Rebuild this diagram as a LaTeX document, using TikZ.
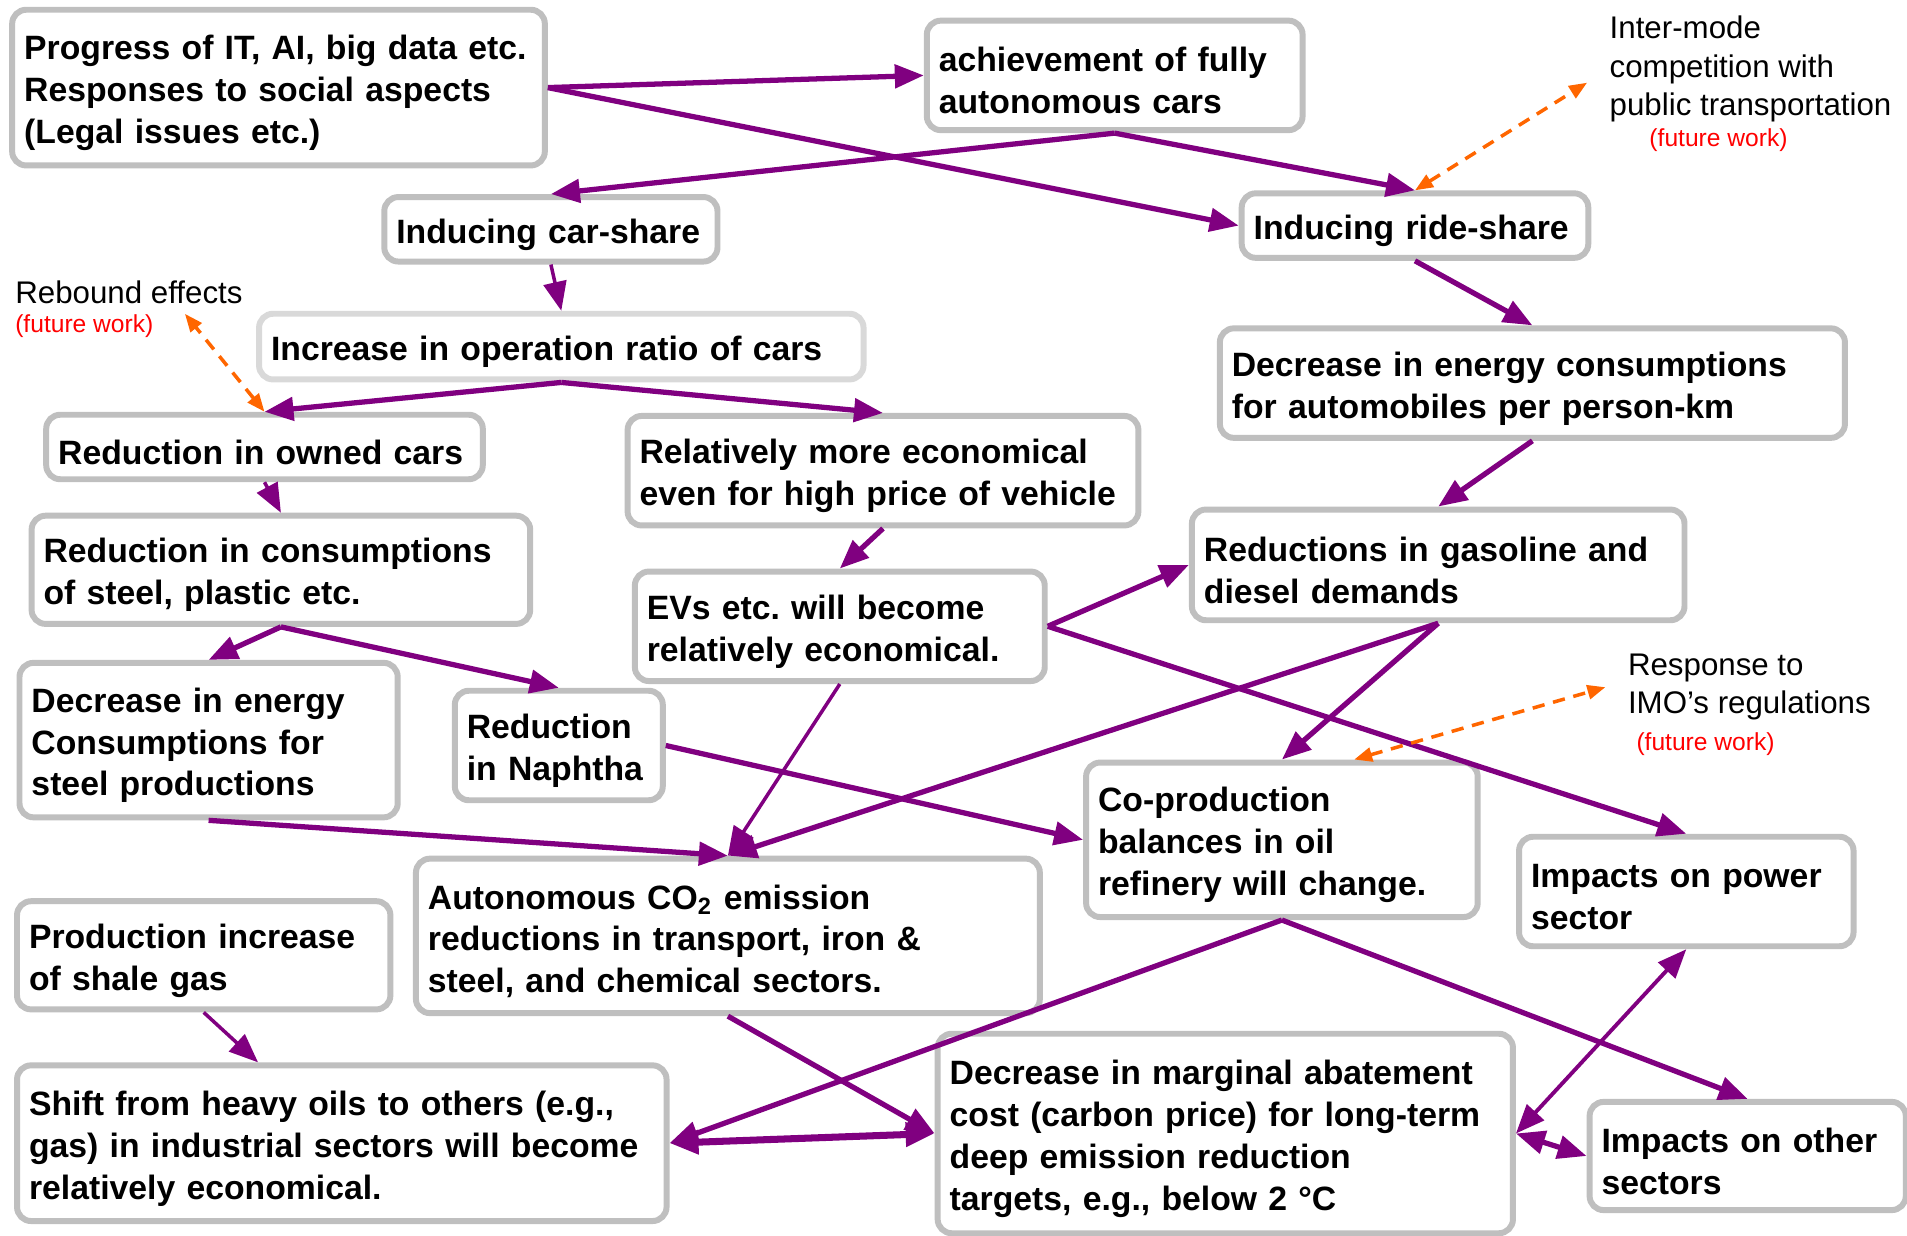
\documentclass[tikz,border=0pt]{standalone}
\usepackage{fontspec}
\setmainfont{Liberation Sans}
\frenchspacing
\usetikzlibrary{arrows.meta}
\definecolor{boxgray}{RGB}{191,191,191}
\definecolor{lightgray}{RGB}{217,217,217}
\definecolor{flowpurple}{RGB}{128,0,128}
\definecolor{fworange}{RGB}{255,102,0}
\tikzset{
  box/.style={draw=boxgray, line width=1.7pt, rounded corners=4pt, fill=white, align=left,
    inner xsep=0.12cm, inner ysep=0.08cm, font=\bfseries\fontsize{9.6}{11.9}\selectfont,
    execute at begin node={\rule{0pt}{10pt}}},
  flow/.style={draw=flowpurple, line width=1.5pt, -{Triangle[length=0.29cm,width=0.23cm]}},
  thinflow/.style={flow, line width=1pt},
  both/.style={flow, {Triangle[length=0.29cm,width=0.23cm]}-{Triangle[length=0.29cm,width=0.23cm]}},
  fw/.style={draw=fworange, line width=1pt, dash pattern=on 3.5pt off 2.5pt,
    {Triangle[length=0.18cm,width=0.14cm]}-{Triangle[length=0.18cm,width=0.14cm]}},
  note/.style={align=left, inner sep=0pt, font=\fontsize{8.9}{10.9}\selectfont},
  later/.style={text=red, inner sep=0pt, font=\fontsize{7}{8.4}\selectfont}
}
\begin{document}
\begin{tikzpicture}
\useasboundingbox (0,0) rectangle (19.07,-12.36);
\node[box, text width=5.087cm, minimum height=1.557cm] (it) at (2.785,-0.876)
{Progress of IT, AI, big data etc.\\Responses to social aspects\\(Legal issues etc.)};
\node[box, text width=3.518cm, minimum height=1.095cm] (auto) at (11.147,-0.754)
{achievement of fully\\autonomous cars};
\node[box, text width=3.092cm, minimum height=0.645cm] (car) at (5.509,-2.293)
{Inducing car-share};
\node[box, text width=3.226cm, minimum height=0.645cm] (ride) at (14.150,-2.256)
{Inducing ride-share};
\node[box, draw=lightgray, text width=5.805cm, minimum height=0.657cm] (opr) at (5.613,-3.466)
{Increase in operation ratio of cars};
\node[box, text width=6.011cm, minimum height=1.095cm] (epk) at (15.324,-3.831)
{Decrease in energy consumptions\\for automobiles per person-km};
\node[box, text width=4.126cm, minimum height=0.645cm] (own) at (2.645,-4.470)
{Reduction in owned cars};
\node[box, text width=4.868cm, minimum height=1.095cm] (rel) at (8.830,-4.707)
{Relatively more economical\\even for high price of vehicle};
\node[box, text width=4.746cm, minimum height=1.082cm] (mat) at (2.809,-5.698)
{Reduction in consumptions\\of steel, plastic etc.};
\node[box, text width=4.686cm, minimum height=1.107cm] (gas) at (14.382,-5.649)
{Reductions in gasoline and\\diesel demands};
\node[box, text width=3.859cm, minimum height=1.095cm] (ev) at (8.398,-6.263)
{EVs etc. will become\\relatively economical.};
\node[box, text width=3.542cm, minimum height=1.545cm] (stl) at (2.086,-7.401)
{Decrease in energy\\Consumptions for\\steel productions};
\node[box, text width=1.840cm, minimum height=1.095cm] (nap) at (5.588,-7.455)
{Reduction\\in Naphtha};
\node[box, text width=3.676cm, minimum height=1.545cm] (ref) at (12.819,-8.398)
{Co-production\\balances in oil\\refinery will change.};
\node[box, text width=3.105cm, minimum height=1.095cm] (pow) at (16.863,-8.915)
{Impacts on power\\sector};
\node[box, text width=5.999cm, minimum height=1.545cm] (co2) at (7.279,-9.359)
{Autonomous CO\textsubscript{2} emission\\reductions in transport, iron \&\\steel, and chemical sectors.};
\node[box, text width=3.494cm, minimum height=1.082cm] (shl) at (2.037,-9.553)
{Production increase\\of shale gas};
\node[box, text width=6.255cm, minimum height=1.557cm] (oil) at (3.418,-11.432)
{Shift from heavy oils to others (e.g.,\\gas) in industrial sectors will become\\relatively economical.};
\node[box, text width=5.513cm, minimum height=1.995cm] (mac) at (12.253,-11.335)
{Decrease in marginal abatement\\cost (carbon price) for long-term\\deep emission reduction\\targets, e.g., below 2 °C};
\node[box, text width=2.922cm, minimum height=1.082cm] (oth) at (17.477,-11.560)
{Impacts on other\\sectors};
% future work notes
\node[note, anchor=west] (mode) at (16.09,-0.69)
{Inter-mode\\competition with\\public transportation};
\node[later] (modefw) at (17.185,-1.399) {(future work)};
\node[note, anchor=west] (rebound) at (0.146,-2.919) {Rebound effects};
\node[later, anchor=west] (reboundfw) at (0.146,-3.259) {(future work)};
\node[note, anchor=west] (imo) at (16.273,-6.87)
{Response to\\IMO’s regulations};
\node[later, anchor=west] (imofw) at (16.358,-7.443) {(future work)};
\coordinate (modetip) at (15.871,-0.827);
\coordinate (reboundtip) at (1.849,-3.138);
\coordinate (imotip) at (16.054,-6.872);
% causal links
\draw[flow] (it.east) -- (auto.west);
\draw[flow] (it.east) -- (ride.west);
\draw[flow] (auto.south) -- (car.north);
\draw[flow] (auto.south) -- (ride.north);
\draw[thinflow] (car.south) -- (opr.north);
\draw[flow] (ride.south) -- (epk.north);
\draw[flow] (opr.south) -- (own.north);
\draw[flow] (opr.south) -- (rel.north);
\draw[flow] (epk.south) -- (gas.north);
\draw[thinflow] (own.south) -- (mat.north);
\draw[flow] (rel.south) -- (ev.north);
\draw[flow] (mat.south) -- (stl.north);
\draw[flow] (mat.south) -- (nap.north);
\draw[flow] (ev.east) -- (gas.west);
\draw[flow] (ev.east) -- (pow.north);
\draw[flow] (gas.south) -- (ref.north);
\draw[flow] (gas.south) -- (co2.north);
\draw[thinflow] (ev.south) -- (co2.north);
\draw[flow] (stl.south) -- (co2.north);
\draw[flow] (nap.east) -- (ref.west);
\draw[flow] (ref.south) -- (oil.east);
\draw[flow] (ref.south) -- (oth.north);
\draw[flow] (co2.south) -- (mac.west);
\draw[thinflow] (shl.south) -- (oil.136);
\draw[both, line width=2pt] (oil.east) -- (mac.west);
\draw[both, line width=1.1pt] (pow.south) -- (mac.east);
\draw[both] (mac.east) -- (oth.west);
\draw[fw] (ride.north) -- (modetip);
\draw[fw] (own.north) -- (reboundtip);
\draw[fw] (ref.48) -- (imotip);
\end{tikzpicture}
\end{document}
